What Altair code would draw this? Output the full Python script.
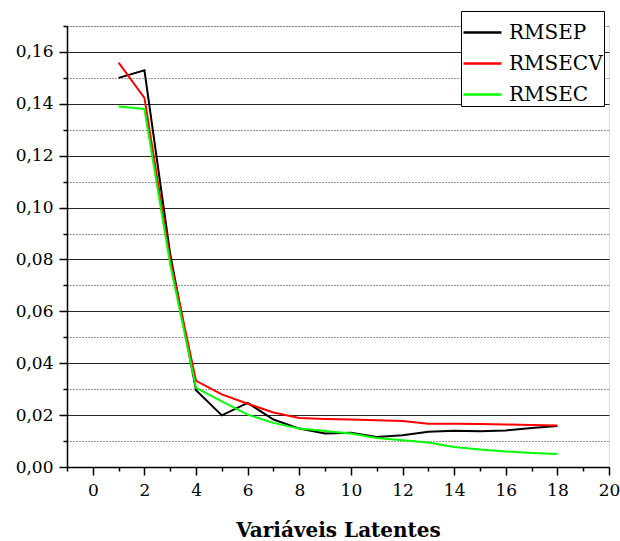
import altair as alt
import pandas as pd

# Latent variables (number of PLS components)
latent_vars = list(range(1, 19))

rmsep = [0.150, 0.1529, 0.082, 0.0296, 0.0199, 0.0247, 0.0183, 0.0148, 0.0129,
         0.0132, 0.0116, 0.0122, 0.0136, 0.0140, 0.0138, 0.0141, 0.0150, 0.0158]
rmsecv = [0.1559, 0.1423, 0.080, 0.0332, 0.0280, 0.0244, 0.0210, 0.0189, 0.0185,
          0.0183, 0.0180, 0.0177, 0.0167, 0.0167, 0.0166, 0.0164, 0.0162, 0.0160]
rmsec = [0.1390, 0.1380, 0.078, 0.0305, 0.0253, 0.0202, 0.0170, 0.0148, 0.0139,
         0.0129, 0.0112, 0.0103, 0.0094, 0.0077, 0.0067, 0.0060, 0.0054, 0.0050]

series_names = ["RMSEP", "RMSECV", "RMSEC"]
series_colors = ["#000000", "#ff0000", "#00ff00"]

y_ticks = [round(i * 0.01, 2) for i in range(0, 18)]
x_ticks = list(range(-1, 21))

rows = []
for name, vals in zip(series_names, [rmsep, rmsecv, rmsec]):
    for lv, v in zip(latent_vars, vals):
        rows.append({"lv": lv, "value": v, "serie": name})
df = pd.DataFrame(rows)

serif = "DejaVu Serif"

y_major = "round(datum.value * 100) % 2 == 0"
x_major = "datum.value % 2 == 0"

chart = alt.Chart(df).mark_line(strokeWidth=2).encode(
    x=alt.X(
        "lv:Q",
        scale=alt.Scale(domain=[-1, 20], nice=False, zero=False),
        axis=alt.Axis(
            title="Variáveis Latentes",
            values=x_ticks,
            grid=False,
            tickSize={"condition": {"test": x_major, "value": 8}, "value": 4},
            tickColor="#000",
            tickWidth=1.5,
            domainColor="#000",
            domainWidth=1.5,
            labelExpr="datum.value % 2 == 0 ? format(datum.value, 'd') : ''",
            labelFont=serif,
            labelFontSize=17,
            labelColor="#000",
            labelPadding=7,
            labelFlush=False,
            titleFont=serif,
            titleFontSize=20,
            titleFontWeight="bold",
            titleColor="#000",
            titlePadding=22,
        ),
    ),
    y=alt.Y(
        "value:Q",
        scale=alt.Scale(domain=[0, 0.17], nice=False),
        axis=alt.Axis(
            title=None,
            values=y_ticks,
            grid=True,
            gridColor="#000",
            gridWidth=1,
            gridOpacity={"condition": {"test": y_major, "value": 0.85}, "value": 0.8},
            gridDash={"condition": {"test": y_major, "value": []}, "value": [1, 2]},
            tickSize={"condition": {"test": y_major, "value": 8}, "value": 4},
            tickColor="#000",
            tickWidth=1.5,
            domainColor="#000",
            domainWidth=1.5,
            labelExpr=f"{y_major} ? replace(format(datum.value, '.2f'), '.', ',') : ''",
            labelFont=serif,
            labelFontSize=17,
            labelColor="#000",
            labelPadding=6,
        ),
    ),
    color=alt.Color(
        "serie:N",
        sort=series_names,
        scale=alt.Scale(domain=series_names, range=series_colors),
        legend=alt.Legend(
            title=None,
            orient="none",
            legendX=394,
            legendY=-15,
            symbolType="stroke",
            symbolSize=1444,
            symbolStrokeWidth=2.5,
            labelFont=serif,
            labelFontSize=20,
            labelColor="#000",
            labelOffset=6,
            rowPadding=0,
            padding=1,
            fillColor="#ffffff",
            strokeColor="#000000",
            cornerRadius=0,
        ),
    ),
).properties(
    width=542,
    height=441,
    autosize=alt.AutoSizeParams(type="none"),
)

chart = chart.configure_view(stroke=None).configure(
    padding={"left": 67, "top": 26, "right": 11, "bottom": 74},
    background="#ffffff",
    font=serif,
)

chart.save("out.html", embed_options={"renderer": "svg", "actions": False})
